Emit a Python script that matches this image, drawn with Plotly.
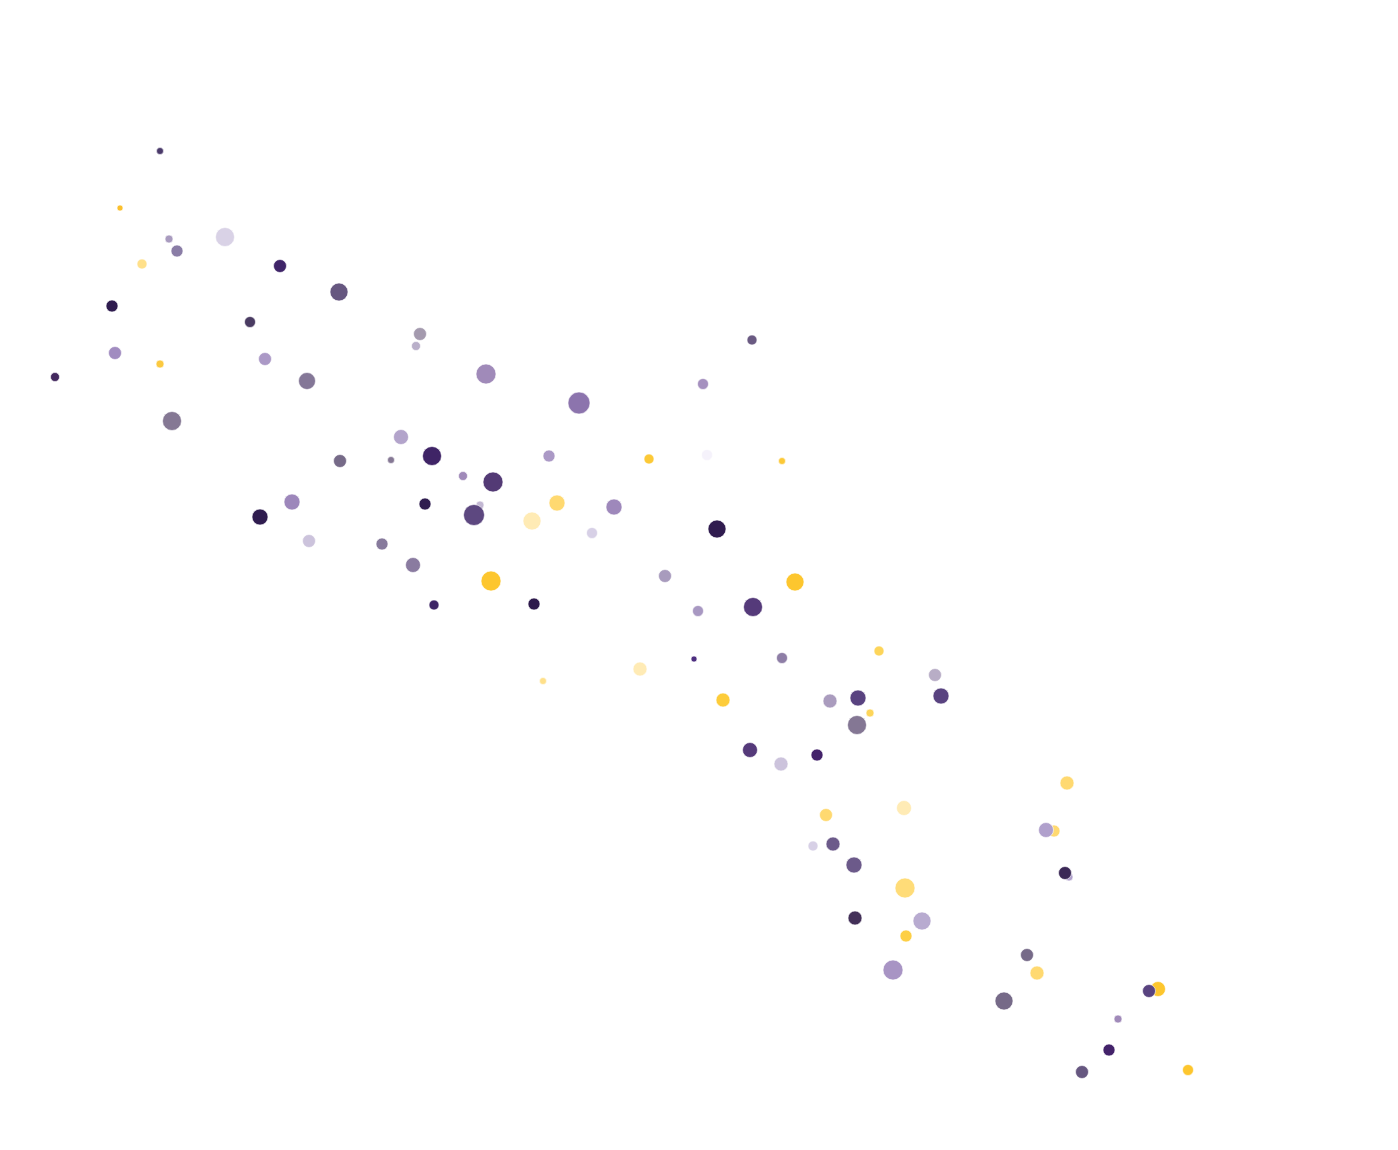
import plotly.graph_objects as go

# Data (x, y in chart units; value -> bubble diameter)
x_vals = [160, 120, 169, 177, 225, 142, 280, 339, 112, 250,
          420, 416, 55, 115, 160, 265, 307, 486, 579, 172,
          401, 432, 340, 391, 549, 463, 493, 292, 260, 425,
          480, 474, 557, 532, 614, 592, 309, 382, 413, 491,
          434, 534, 649, 707, 782, 752, 703, 717, 665, 795,
          698, 753, 543, 640, 694, 782, 879, 723, 830, 858,
          870, 935, 941, 857, 750, 781, 817, 826, 904, 813,
          833, 854, 905, 855, 922, 906, 893, 1067, 1054, 1046,
          1069, 1065, 1027, 1037, 1004, 1158, 1149, 1118, 1109, 1082,
          1188]
y_vals = [151, 208, 239, 251, 237, 264, 266, 292, 306, 322,
          334, 346, 377, 353, 364, 359, 381, 374, 403, 421,
          437, 456, 461, 460, 456, 476, 482, 502, 517, 504,
          505, 515, 503, 521, 507, 533, 541, 544, 565, 581,
          605, 604, 459, 455, 461, 340, 384, 529, 576, 582,
          611, 607, 681, 669, 659, 658, 651, 700, 701, 698,
          713, 675, 696, 725, 750, 764, 755, 815, 808, 846,
          844, 865, 888, 918, 921, 936, 970, 783, 831, 830,
          877, 873, 955, 973, 1001, 989, 991, 1019, 1050, 1072,
          1070]
values = [7, 6, 8, 12, 19, 10, 13, 18, 12, 11,
          13, 9, 9, 13, 8, 13, 17, 20, 22, 19,
          15, 19, 13, 7, 12, 9, 20, 16, 16, 12,
          8, 21, 16, 18, 16, 11, 13, 12, 15, 20,
          10, 12, 10, 11, 7, 10, 11, 18, 13, 18,
          11, 19, 7, 14, 6, 11, 10, 14, 14, 16,
          8, 13, 16, 19, 15, 14, 12, 13, 15, 10,
          14, 16, 20, 14, 18, 12, 20, 14, 12, 15,
          8, 13, 13, 14, 18, 15, 13, 8, 12, 13,
          11]
colors = ["#4a3a6a", "#fbc02d", "#a99bbf", "#8a7da6", "#d9d2e6", "#ffe08a", "#3f2468", "#665780", "#2f1c4f", "#4a3b62",
          "#a49aae", "#b9afc9", "#43285e", "#a18cc0", "#fbc940", "#ab99c6", "#847797", "#a08ab9", "#8c74ad", "#857894",
          "#b3a4cb", "#3f2466", "#766a88", "#857894", "#ab99c6", "#a08ab9", "#533a75", "#9d87bb", "#2f1c4f", "#2f1c4f",
          "#c3b8d3", "#5d4880", "#ffd970", "#ffebb5", "#9e88bb", "#d7d0e6", "#ccc3dc", "#877a9c", "#8a7ba0", "#fdc62e",
          "#3e2566", "#2e1a4c", "#fcc937", "#f5f2fb", "#fcc937", "#6a5a82", "#a590bf", "#301c4f", "#a89bbd", "#fdc62e",
          "#a898c2", "#553a7a", "#ffe08a", "#ffebb5", "#4d2e80", "#8e7ea6", "#fdd55a", "#fdcc3a", "#aa9cbe", "#594380",
          "#fdd55a", "#b8adc6", "#594380", "#847794", "#553a7a", "#ccc3dc", "#43226a", "#ffd970", "#ffebb5", "#d7d0e6",
          "#6c5a8a", "#6c5a8a", "#ffdc78", "#433058", "#b8abd0", "#fdcf45", "#a894c4", "#ffd970", "#ffd970", "#b0a0cc",
          "#b0a0cc", "#3b2856", "#766a88", "#ffd970", "#766a88", "#fdc62e", "#594380", "#a08ab9", "#43226a", "#665780",
          "#fdc62e"]

fig = go.Figure()
fig.add_trace(go.Scatter(
    x=x_vals, y=y_vals, mode="markers",
    marker=dict(size=values, sizemode="diameter", color=colors, opacity=1,
                line=dict(width=0.6, color="white")),
    hoverinfo="x+y",
))
# page body has an 8px margin; axis ranges offset so that 1 unit = 1 px
fig.update_layout(
    width=1382, height=1134,
    margin=dict(l=0, r=0, t=0, b=0),
    paper_bgcolor="white", plot_bgcolor="white",
    showlegend=False,
    xaxis=dict(range=[8, 1390], visible=False, showgrid=False, zeroline=False),
    yaxis=dict(range=[1142, 8], visible=False, showgrid=False, zeroline=False),
)
fig.write_html("out.html")
